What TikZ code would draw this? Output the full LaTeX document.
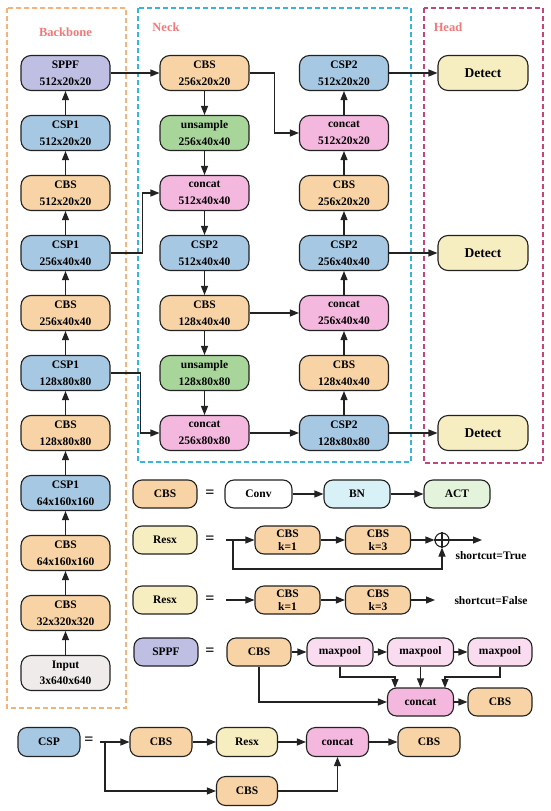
\documentclass[tikz,border=0pt]{standalone}
\usepackage{fontspec}
\setmainfont{Liberation Serif}
\usetikzlibrary{arrows.meta,positioning}
\definecolor{cbsc}{HTML}{F7D3A5}
\definecolor{cspc}{HTML}{A7C8E2}
\definecolor{catc}{HTML}{F4B8DF}
\definecolor{upc}{HTML}{A8D69A}
\definecolor{sppfc}{HTML}{BEBFE2}
\definecolor{detc}{HTML}{F6EDC0}
\definecolor{inc}{HTML}{EFEBEB}
\definecolor{bnc}{HTML}{D8F1F6}
\definecolor{actc}{HTML}{E4F3DC}
\definecolor{mpc}{HTML}{F9DCEF}
\definecolor{bbc}{HTML}{F5B27A}
\definecolor{nkc}{HTML}{3BB4DC}
\definecolor{hdc}{HTML}{C2457E}
\definecolor{lblc}{HTML}{F07878}
\definecolor{edge}{HTML}{222222}
\tikzset{
  box/.style={draw=edge, line width=1.1pt, rounded corners=10pt, minimum width=89pt, minimum height=35pt, inner sep=0pt, align=center, font=\bfseries\fontsize{11.5}{16.5}\selectfont},
  lbox/.style={box, minimum width=64pt, minimum height=28pt, rounded corners=9pt},
  kbox/.style={lbox, minimum width=65pt, font=\bfseries\fontsize{11.5}{12.5}\selectfont},
  arr/.style={-{Triangle[length=9pt,width=7pt]}, line width=1.1pt, draw=edge},
  ln/.style={line width=1.1pt, draw=edge},
  group/.style={dashed, dash pattern=on 5pt off 3pt, line width=1.2pt},
  glabel/.style={text=lblc, font=\bfseries\fontsize{12.5}{14}\selectfont, anchor=center},
  eqs/.style={font=\bfseries\fontsize{16}{16}\selectfont, inner sep=0pt},
  small/.style={font=\bfseries\fontsize{11.5}{13}\selectfont, inner sep=0pt}
}
\begin{document}
\begin{tikzpicture}[x=1pt,y=-1pt]
\useasboundingbox (0,0) rectangle (550,811);
% group frames
\draw[group, draw=bbc] (7,8) rectangle (126,708);
\draw[group, draw=nkc] (138,8) rectangle (411,462);
\draw[group, draw=hdc] (424,8) rectangle (543,463);
\node[glabel] (lbb) at (65.5,32) {Backbone};
\node[glabel] (lnk) at (166,27) {Neck};
\node[glabel] (lhd) at (448,27) {Head};
% backbone
\node[box, fill=sppfc] (b1) at (65.5,73) {SPPF\\512x20x20};
\node[box, fill=cspc] (b2) at (65.5,133) {CSP1\\512x20x20};
\node[box, fill=cbsc] (b3) at (65.5,193) {CBS\\512x20x20};
\node[box, fill=cspc] (b4) at (65.5,253) {CSP1\\256x40x40};
\node[box, fill=cbsc] (b5) at (65.5,313) {CBS\\256x40x40};
\node[box, fill=cspc] (b6) at (65.5,373) {CSP1\\128x80x80};
\node[box, fill=cbsc] (b7) at (65.5,433) {CBS\\128x80x80};
\node[box, fill=cspc] (b8) at (65.5,493) {CSP1\\64x160x160};
\node[box, fill=cbsc] (b9) at (65.5,553) {CBS\\64x160x160};
\node[box, fill=cbsc] (b10) at (65.5,613) {CBS\\32x320x320};
\node[box, fill=inc] (b11) at (65.5,673) {Input\\3x640x640};
\foreach \a/\b in {b11/b10,b10/b9,b9/b8,b8/b7,b7/b6,b6/b5,b5/b4,b4/b3,b3/b2,b2/b1}
  \draw[arr] (\a.north) -- (\b.south);
% neck left
\node[box, fill=cbsc] (n1) at (204.5,73) {CBS\\256x20x20};
\node[box, fill=upc] (n2) at (204.5,133) {unsample\\256x40x40};
\node[box, fill=catc] (n3) at (204.5,193) {concat\\512x40x40};
\node[box, fill=cspc] (n4) at (204.5,253) {CSP2\\512x40x40};
\node[box, fill=cbsc] (n5) at (204.5,313) {CBS\\128x40x40};
\node[box, fill=upc] (n6) at (204.5,373) {unsample\\128x80x80};
\node[box, fill=catc] (n7) at (204.5,433) {concat\\256x80x80};
\foreach \a/\b in {n1/n2,n2/n3,n3/n4,n4/n5,n5/n6,n6/n7}
  \draw[arr] (\a.south) -- (\b.north);
% neck right
\node[box, fill=cspc] (r1) at (344,73) {CSP2\\512x20x20};
\node[box, fill=catc] (r2) at (344,133) {concat\\512x20x20};
\node[box, fill=cbsc] (r3) at (344,193) {CBS\\256x20x20};
\node[box, fill=cspc] (r4) at (344,253) {CSP2\\256x40x40};
\node[box, fill=catc] (r5) at (344,313) {concat\\256x40x40};
\node[box, fill=cbsc] (r6) at (344,373) {CBS\\128x40x40};
\node[box, fill=cspc] (r7) at (344,433) {CSP2\\128x80x80};
\foreach \a/\b in {r7/r6,r6/r5,r5/r4,r4/r3,r3/r2,r2/r1}
  \draw[arr] (\a.north) -- (\b.south);
% head
\node[box, fill=detc, minimum width=90pt, font=\bfseries\fontsize{13.5}{16}\selectfont] (d1) at (483,73) {Detect};
\node[box, fill=detc, minimum width=90pt, font=\bfseries\fontsize{13.5}{16}\selectfont] (d2) at (483,253) {Detect};
\node[box, fill=detc, minimum width=90pt, font=\bfseries\fontsize{13.5}{16}\selectfont] (d3) at (483,433) {Detect};
% cross connections
\draw[arr] (b1.east) -- (n1.west);
\draw[arr] (n1.east) -- ++(25,0) |- (r2.west);
\draw[arr] (b4.east) -- ++(32,0) |- (n3.west);
\draw[arr] (b6.east) -- ++(30,0) |- (n7.west);
\draw[arr] (n5.east) -- (r5.west);
\draw[arr] (n7.east) -- (r7.west);
\draw[arr] (r1.east) -- (d1.west);
\draw[arr] (r4.east) -- (d2.west);
\draw[arr] (r7.east) -- (d3.west);
% legend: CBS
\node[lbox, fill=cbsc] (lcbs) at (165,494) {CBS};
\node[eqs] (eq1) at (210,494) {=};
\node[lbox, fill=white, minimum width=67pt] (conv) at (258.5,494) {Conv};
\node[lbox, fill=bnc, minimum width=66pt] (bn) at (357,494) {BN};
\node[lbox, fill=actc, minimum width=66pt] (act) at (457,494) {ACT};
\draw[arr] (conv.east) -- (bn.west);
\draw[arr] (bn.east) -- (act.west);
% legend: Resx True
\node[lbox, fill=detc] (lres1) at (165,540) {Resx};
\node[eqs] (eq2) at (210,540) {=};
\coordinate (s1) at (226,540);
\coordinate (s1b) at (233,540);
\node[kbox, fill=cbsc] (k1a) at (287.5,540) {CBS\\k=1};
\node[kbox, fill=cbsc] (k3a) at (378,540) {CBS\\k=3};
\node[circle, draw=edge, line width=1.1pt, minimum size=14pt, inner sep=0pt] (plus) at (442,540) {};
\draw[ln] (plus.north) -- (plus.south) (plus.west) -- (plus.east);
\coordinate (e1) at (482,540);
\draw[arr] (s1) -- (k1a.west);
\draw[arr] (k1a.east) -- (k3a.west);
\draw[arr] (k3a.east) -- (plus.west);
\draw[arr] (plus.east) -- (e1);
\draw[arr] (s1b) -- (233,569) -| (plus.south);
\node[small] (t1) at (491,556) {shortcut=True};
% legend: Resx False
\node[lbox, fill=detc] (lres2) at (165,600) {Resx};
\node[eqs] (eq3) at (210,600) {=};
\coordinate (s2) at (226,600);
\node[kbox, fill=cbsc] (k1b) at (287.5,600) {CBS\\k=1};
\node[kbox, fill=cbsc] (k3b) at (378,600) {CBS\\k=3};
\coordinate (e2) at (435,600);
\draw[arr] (s2) -- (k1b.west);
\draw[arr] (k1b.east) -- (k3b.west);
\draw[arr] (k3b.east) -- (e2);
\node[small] (t2) at (491,601) {shortcut=False};
% legend: SPPF
\node[lbox, fill=sppfc] (lsppf) at (166,652) {SPPF};
\node[eqs] (eq4) at (210,652) {=};
\node[lbox, fill=cbsc] (scbs) at (259,652) {CBS};
\node[lbox, fill=mpc, minimum width=66pt] (mp1) at (340,652) {maxpool};
\node[lbox, fill=mpc, minimum width=66pt] (mp2) at (420.5,652) {maxpool};
\node[lbox, fill=mpc, minimum width=64pt] (mp3) at (500,652) {maxpool};
\node[lbox, fill=catc, minimum width=66pt] (scat) at (420.5,702) {concat};
\node[lbox, fill=cbsc] (scbs2) at (500,702) {CBS};
\draw[arr] (scbs.east) -- (mp1.west);
\draw[arr] (mp1.east) -- (mp2.west);
\draw[arr] (mp2.east) -- (mp3.west);
\draw[arr] (mp1.south) -- (340,677) -- (395,677) -- (395,688);
\draw[arr] (mp2.south) -- (scat.north);
\draw[arr] (mp3.south) -- (500,677) -- (445,677) -- (445,688);
\draw[arr] (scbs.south) |- (scat.west);
\draw[arr] (scat.east) -- (scbs2.west);
% legend: CSP
\node[lbox, fill=cspc, minimum width=62pt, minimum height=29pt] (lcsp) at (49,742) {CSP};
\node[eqs] (eq5) at (89,741) {=};
\coordinate (c0) at (100,742);
\coordinate (c1) at (105,742);
\node[lbox, fill=cbsc, minimum width=62pt, minimum height=29pt] (ccbs1) at (161,742) {CBS};
\node[lbox, fill=detc, minimum width=61pt, minimum height=29pt] (cres) at (247,742) {Resx};
\node[lbox, fill=catc, minimum width=62pt, minimum height=29pt] (ccat) at (337.5,742) {concat};
\node[lbox, fill=cbsc, minimum width=62pt, minimum height=29pt] (ccbs2) at (429,742) {CBS};
\node[lbox, fill=cbsc, minimum width=61pt, minimum height=29pt] (ccbs3) at (247,791) {CBS};
\draw[arr] (c0) -- (ccbs1.west);
\draw[arr] (ccbs1.east) -- (cres.west);
\draw[arr] (cres.east) -- (ccat.west);
\draw[arr] (ccat.east) -- (ccbs2.west);
\draw[arr] (c1) |- (ccbs3.west);
\draw[arr] (ccbs3.east) -| (ccat.south);
\end{tikzpicture}
\end{document}
